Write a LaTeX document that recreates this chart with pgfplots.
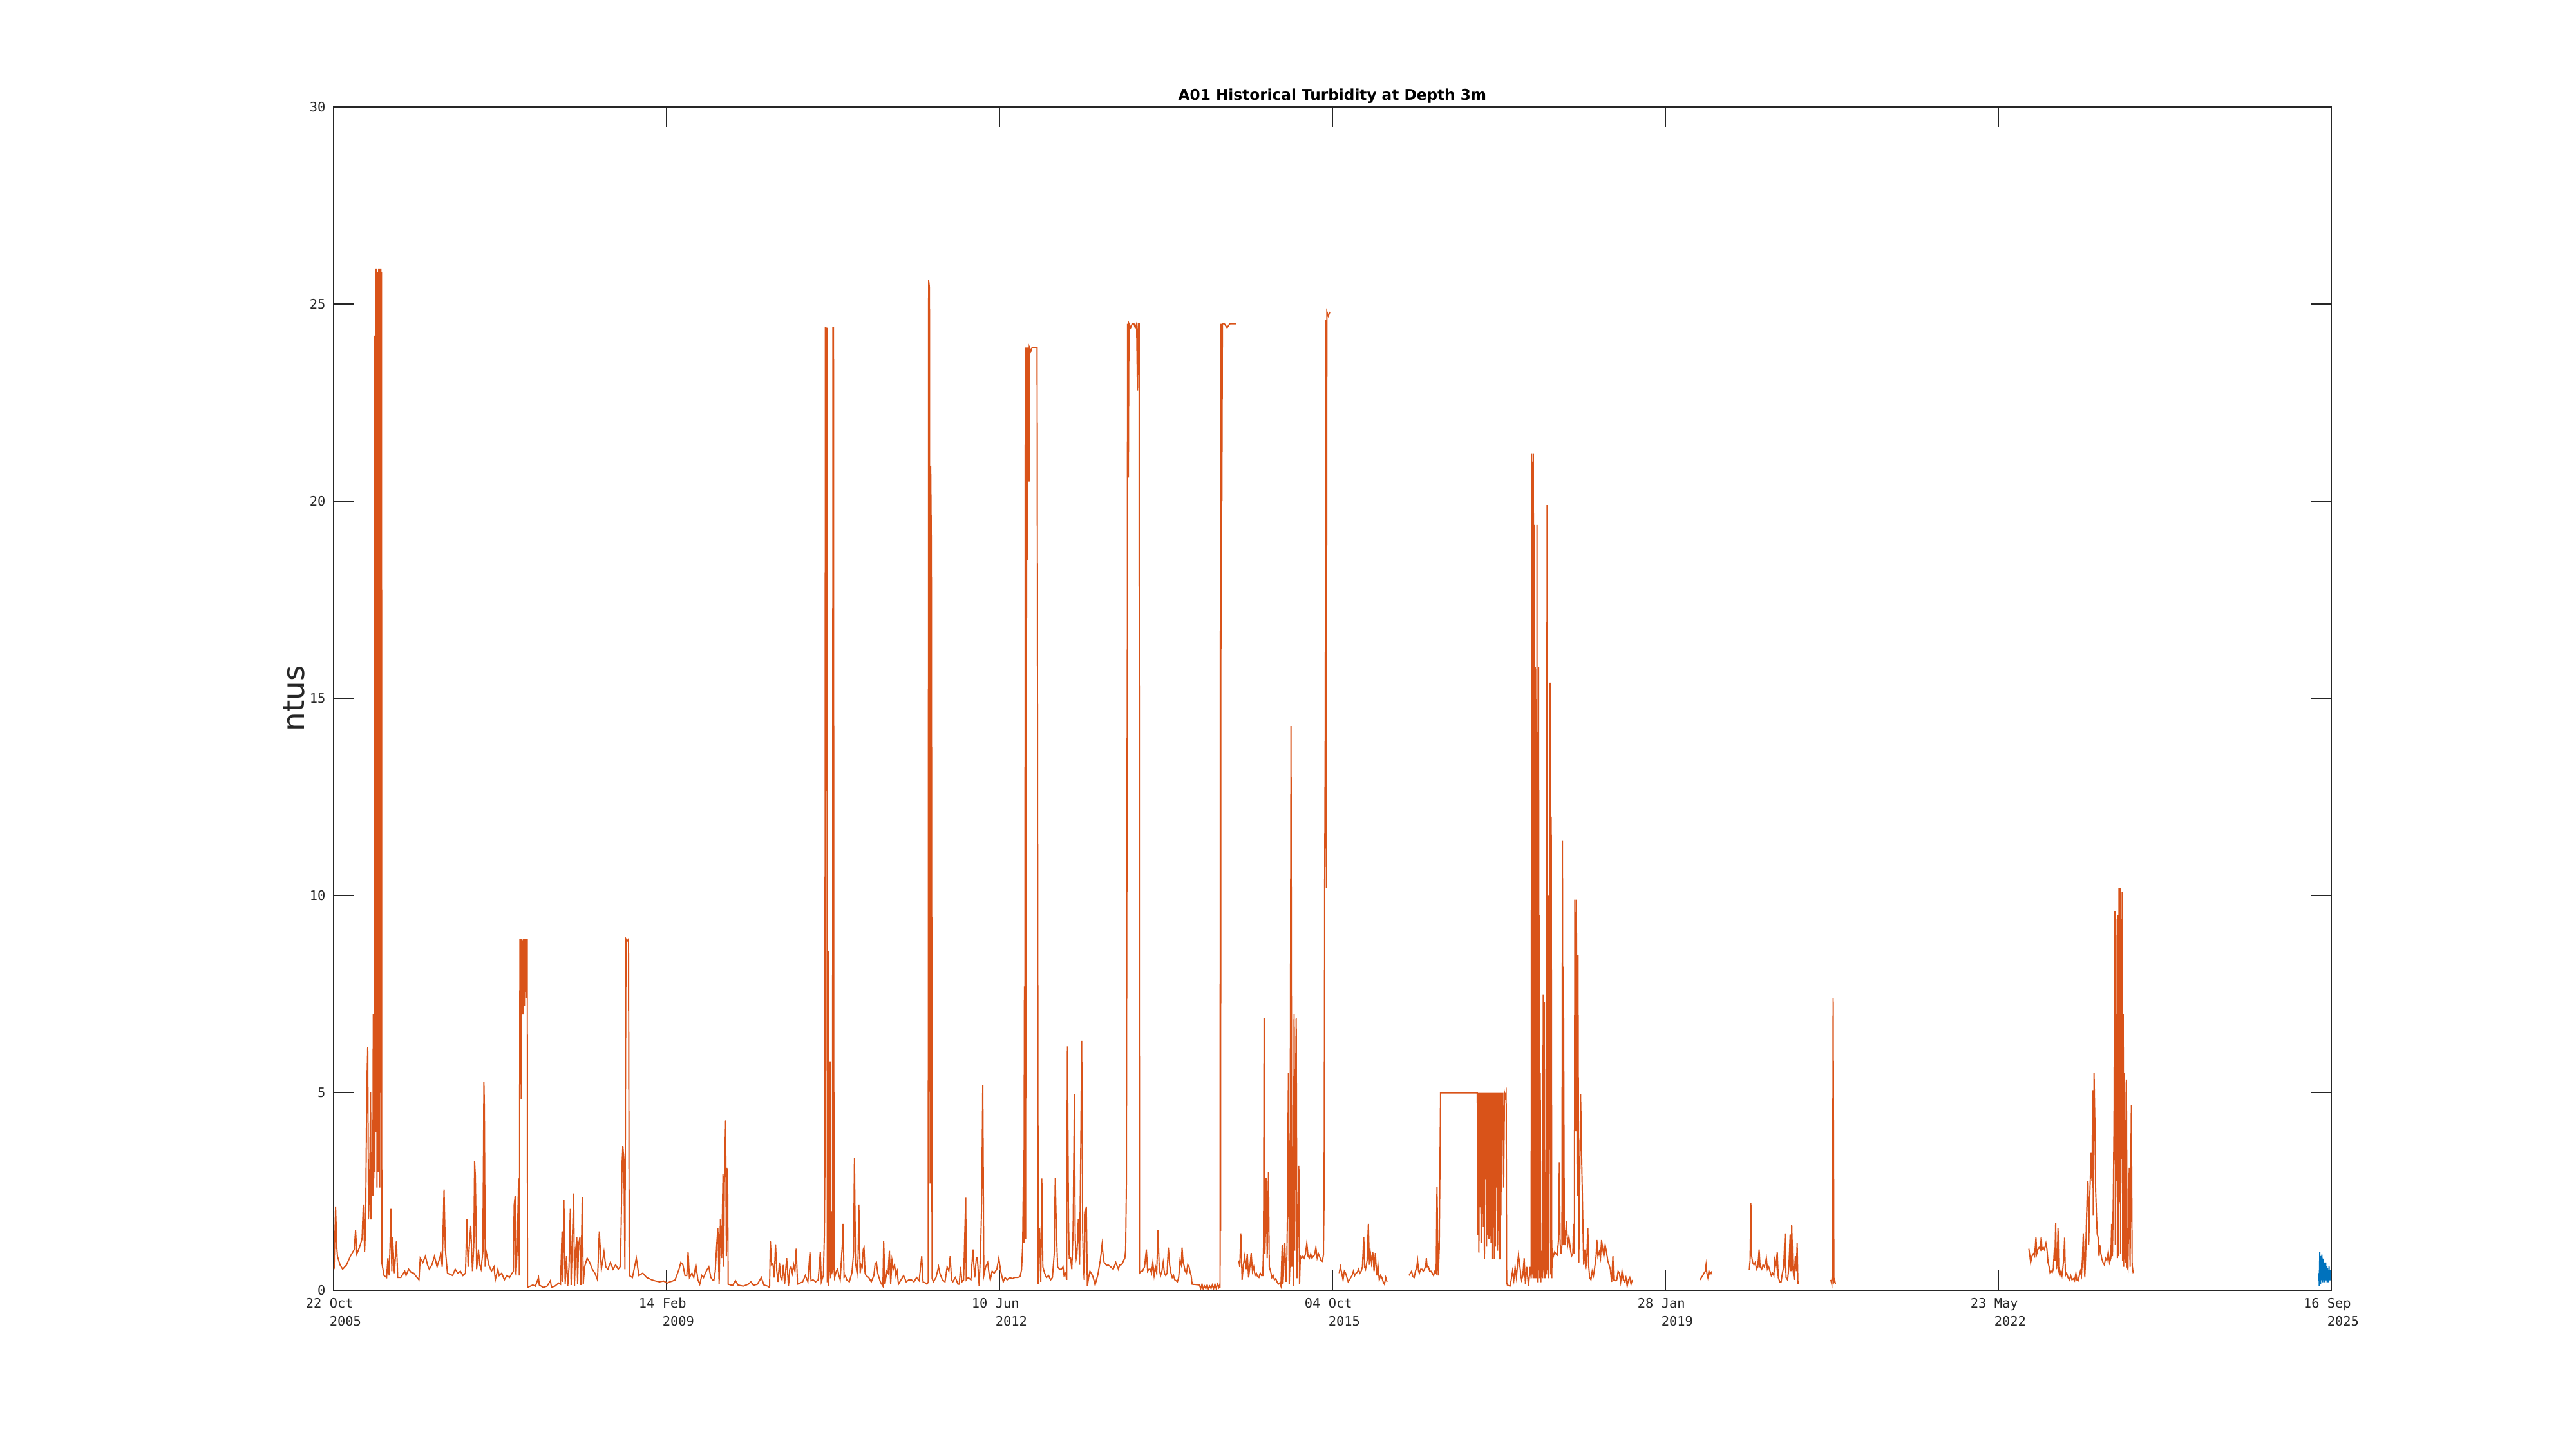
\documentclass[border=0pt]{standalone}
\usepackage{fontspec}
\setmainfont{DejaVu Sans}
\setmonofont{DejaVu Sans Mono}
\usepackage{pgfplots}
\pgfplotsset{compat=1.18}
\definecolor{morange}{RGB}{217,83,25}
\definecolor{mblue}{RGB}{0,114,189}
\definecolor{maxis}{RGB}{38,38,38}
\begin{document}
\begin{tikzpicture}
\begin{axis}[name=ax, scale only axis, width=31.02cm, height=18.37cm,
 xmin=0, xmax=7266, ymin=0, ymax=30,
 xtick={0,1211,2422,3633,4844,6055,7266},
 xticklabels={{22 Oct\\\hphantom{000}2005},{14 Feb\\\hphantom{000}2009},{10 Jun\\\hphantom{000}2012},{04 Oct\\\hphantom{000}2015},{28 Jan\\\hphantom{000}2019},{23 May\\\hphantom{000}2022},{16 Sep\\\hphantom{000}2025}},
 xticklabel style={align=left, font=\fontsize{5.8}{8}\selectfont\ttfamily, text=maxis},
 ytick={0,5,10,15,20,25,30},
 yticklabel style={font=\fontsize{5.8}{7}\selectfont\ttfamily, text=maxis},
 /pgf/number format/assume math mode=true,
 tick align=inside, major tick length=9pt,
 axis line style={maxis, line width=0.6pt},
 tick style={maxis, line width=0.4pt},
 title={A01 Historical Turbidity at Depth 3m},
 title style={font=\fontsize{6.6}{7.5}\selectfont\bfseries, at={(axis description cs:0.5,1)}, anchor=base, yshift=-3.1pt},
 ylabel={ntus},
 ylabel style={font=\fontsize{13.3}{15}\selectfont, text=maxis, at={([xshift=-0.61cm]axis description cs:0,0.5)}, anchor=center},
 unbounded coords=jump,
 clip=true,
]
\addplot[morange, line width=0.55pt] table {
x y
2.0 0.53
7.6 2.12
11.4 1.14
14.2 0.86
23.7 0.64
33.1 0.53
47.2 0.64
61.3 0.86
75.4 1.03
80.1 1.52
84.8 0.92
94.2 1.08
103.7 1.30
108.4 2.17
113.1 0.97
116.8 1.68
120.6 4.96
124.4 6.16
127.2 1.79
131.9 3.05
134.7 5.01
136.6 1.79
141.3 3.48
143.0 2.4
144.5 7.0
146.0 2.8
148 3.5
149.5 24.2
150.5 3.0
152 20.0
153 5.0
154.5 25.9
155.5 4.0
157 25.9
158 2.6
159.5 25.8
160.5 5.7
162 25.7
163 3.0
164.5 25.9
165.5 4.8
167 25.8
168 2.6
169.5 25.9
170.5 5.0
172 25.9
173 18.3
174.5 25.8
175.5 0.70
183.7 0.37
193.1 0.32
197.8 0.81
202.5 0.37
209.1 2.06
211.9 0.48
214.7 1.35
221.3 0.43
228.8 1.25
233.5 0.32
244.8 0.32
258.9 0.48
263.7 0.37
273.1 0.53
282.5 0.45
291.9 0.43
301.3 0.34
310.7 0.26
315.4 0.81
324.8 0.70
334.3 0.86
341.8 0.64
348.4 0.53
357.8 0.64
367.2 0.86
376.6 0.59
386.0 0.81
390.7 0.92
395.4 0.59
402.0 2.55
406.7 1.03
414.3 0.43
423.7 0.40
433.1 0.37
442.5 0.53
451.9 0.43
461.3 0.48
470.7 0.37
480.1 0.43
484.8 1.79
489.5 0.59
494.2 1.14
499.0 1.63
505.5 0.48
510.3 1.14
513.1 3.26
515.9 2.88
520.6 0.53
527.2 1.03
531.9 0.64
536.6 0.53
543.2 0.97
547.0 5.28
548.8 4.57
551.7 0.59
555.4 0.97
560.1 0.81
564.9 0.64
574.3 0.48
583.7 0.59
588.4 0.26
597.8 0.53
602.5 0.37
611.9 0.43
621.3 0.26
630.7 0.37
640.1 0.32
649.6 0.43
654.3 0.48
657.1 2.17
660.9 2.39
663.7 0.37
668.4 1.14
673.1 2.83
675.9 0.37
678 8.9
679.5 7.2
681 8.9
682.5 4.85
684 8.9
685.5 7.5
687 8.85
688.5 7.0
690 8.9
691.5 7.8
693 8.9
694.5 7.2
696 8.9
697.5 8.0
699 8.85
700.5 7.4
702 8.9
703.5 8.5
704.5 8.9
705.5 0.07
715.4 0.10
724.9 0.13
734.3 0.10
745.6 0.32
748.4 0.13
762.5 0.07
776.6 0.10
788.9 0.24
792.6 0.07
804.9 0.10
819.0 0.18
825.6 0.15
831.2 1.49
834.0 0.21
837.8 2.28
842.5 0.15
847.2 0.86
851.9 0.10
856.6 0.59
861.3 2.06
864.1 0.13
867.9 1.08
873.5 2.45
876.4 0.10
880.1 0.97
884.9 1.35
887.7 0.15
891.4 1.14
896.2 1.35
899.9 0.13
904.6 2.36
908.4 0.15
913.1 0.59
922.5 0.81
931.9 0.70
941.3 0.53
950.7 0.43
960.2 0.26
966.7 1.49
974.2 0.53
983.7 0.97
990.3 0.59
997.8 0.53
1007.2 0.70
1016.6 0.53
1026.0 0.64
1035.4 0.53
1042.1 0.59
1044.9 1.08
1049.6 3.21
1052.4 3.65
1056.2 3.26
1059.9 0.53
1063.7 8.9
1068 8.85
1073 8.9
1075.5 0.37
1087.2 0.32
1101.3 0.81
1110.7 0.37
1124.9 0.43
1139.0 0.32
1157.8 0.26
1171.9 0.23
1186.0 0.21
1200.1 0.23
1214.3 0.18
1223.7 0.21
1233.1 0.23
1242.5 0.26
1256.6 0.53
1263.2 0.70
1270.8 0.64
1278.3 0.37
1284.9 0.37
1289.6 0.97
1294.3 0.32
1303.7 0.43
1310.3 0.32
1317.8 0.64
1325.4 0.26
1332.0 0.15
1339.4 0.37
1346.0 0.32
1355.5 0.48
1364.9 0.59
1372.4 0.32
1379.0 0.26
1383.7 0.26
1388.4 0.48
1393.1 1.08
1397.8 1.57
1402.5 0.15
1407.2 1.79
1411.9 0.81
1416.6 2.94
1419.4 0.59
1421.3 2.66
1426.1 4.30
1428.8 0.86
1430.7 3.10
1433.5 2.9
1435.4 0.15
1444.9 0.13
1452 0.12
1461.7 0.24
1471 0.13
1490 0.10
1508.8 0.15
1518 0.21
1527.6 0.12
1541.7 0.15
1555.9 0.32
1565.3 0.13
1579.4 0.10
1586 0.07
1588.8 1.25
1593.5 0.64
1598.2 0.67
1602.9 0.32
1607.6 1.16
1612.3 0.48
1617.0 0.21
1621.7 0.70
1626.5 0.32
1631.2 0.26
1635.9 0.64
1640.6 0.15
1648.1 0.81
1654.7 0.10
1659.4 0.53
1664.1 0.59
1668.8 0.43
1673.5 0.64
1678.2 0.48
1682.9 1.05
1687.6 0.15
1697.0 0.18
1706.4 0.21
1715.9 0.37
1725.3 0.21
1732.8 0.97
1736.6 0.24
1744.1 0.26
1753.5 0.21
1762.9 0.26
1770.5 0.97
1774.2 0.21
1781.7 0.37
1785.5 1.46
1787.4 3.32
1789 24.4
1791 24.4
1792.5 22.8
1794 24.4
1796 0.2
1799 8.6
1800.5 0.1
1803 0.5
1806 5.8
1808 0.3
1810 2.0
1812 0.4
1815 0.6
1816.5 24.4
1818.5 24.4
1820 0.6
1822.5 0.32
1828.8 0.48
1833.5 0.53
1838.2 0.37
1842.9 0.26
1847.6 0.81
1850.5 1.14
1853.3 1.68
1857.0 0.32
1861.8 0.37
1866.5 0.26
1875.9 0.21
1885.3 0.43
1891.9 0.97
1894.7 3.35
1898.5 0.70
1904.1 0.43
1907.9 0.81
1910.7 2.17
1915.4 0.43
1919.2 0.64
1922.9 0.59
1926.7 1.03
1929.5 1.08
1933.3 0.43
1937.0 0.37
1946.5 0.32
1955.9 0.21
1965.3 0.37
1970.0 0.67
1974.7 0.70
1979.4 0.43
1988.8 0.21
1998.2 0.10
2001.0 1.25
2005.7 0.15
2012.3 0.48
2017.0 0.43
2021.8 1.00
2026.5 0.15
2031.2 0.75
2035.9 0.53
2040.6 0.64
2045.3 0.37
2050.0 0.48
2054.7 0.15
2064.1 0.26
2073.5 0.37
2082.9 0.21
2092.3 0.26
2101.8 0.26
2111.2 0.21
2120.6 0.32
2130.0 0.24
2139.4 0.86
2144.1 0.21
2153.5 0.18
2158.2 0.15
2163 0.2
2164.5 25.6
2167.5 25.4
2170 2.7
2172 20.9
2174.5 18.7
2177 0.3
2181.8 0.21
2191.2 0.32
2200.6 0.59
2205.3 0.43
2214.7 0.26
2224.1 0.21
2231.7 0.59
2238.2 0.48
2243.0 0.86
2247.7 0.26
2252.4 0.21
2261.8 0.32
2271.2 0.15
2275.9 0.15
2280.6 0.59
2285.3 0.21
2291.9 0.26
2299.4 2.34
2301.3 0.26
2308.8 0.32
2318.2 0.26
2325.7 1.03
2329.5 0.59
2332.3 0.32
2338.0 0.81
2341.8 0.81
2348.4 0.10
2354.0 1.14
2357.8 2.34
2361.5 5.20
2365.3 0.37
2371.9 0.59
2379.4 0.70
2384.1 0.43
2388.8 0.26
2395.4 0.48
2403.0 0.43
2412.4 0.53
2419.9 0.81
2426.5 0.48
2435.9 0.21
2442.5 0.32
2450.0 0.26
2459.4 0.32
2468.8 0.29
2478.2 0.32
2487.7 0.32
2497.1 0.34
2502.7 0.53
2506.5 1.14
2509.3 2.94
2511 1.2
2513 7.7
2514.5 3.0
2516 23.9
2517.5 1.3
2519 23.9
2520.5 16.2
2522 23.9
2523.5 18.5
2525 23.9
2526.5 21.8
2528 23.9
2529.5 20.5
2531 23.9
2536 23.8
2541 23.9
2548 23.9
2555 23.9
2559 23.9
2562.9 0.15
2567.7 1.57
2572.4 0.21
2576.1 2.83
2579.9 0.59
2586.4 0.43
2593.1 0.32
2600.6 0.37
2608.1 0.26
2614.7 0.32
2621.3 0.92
2625.1 2.85
2628.8 1.63
2633.5 0.59
2640.1 0.53
2647.7 0.53
2653.3 0.59
2657.1 0.37
2662.7 0.43
2666.5 0.26
2669.3 6.18
2673.1 1.85
2675.9 0.81
2680.6 0.81
2685.3 0.53
2690.0 1.52
2694.7 4.96
2697.6 1.30
2701.3 0.81
2704.1 0.92
2708.9 1.79
2713.6 0.64
2718.3 3.92
2721.1 6.32
2724.9 1.41
2727.7 0.59
2730.5 0.26
2734.3 1.95
2738.0 2.12
2741.8 0.10
2746.5 0.32
2751.2 0.48
2760.6 0.37
2765.3 0.26
2770.0 0.13
2774.7 0.26
2779.4 0.37
2788.8 0.75
2795.4 1.16
2800.1 0.81
2802.9 0.70
2812.4 0.62
2817.1 0.64
2826.5 0.59
2835.9 0.53
2845.3 0.70
2854.7 0.53
2859.4 0.64
2864.1 0.64
2868.8 0.67
2873.5 0.75
2878.3 0.81
2881.1 1.03
2883.9 2.77
2886 12.5
2887 15.5
2888 24.5
2891 20.6
2893 24.5
2899 24.4
2905 24.5
2911 24.5
2916 24.4
2921 24.5
2924 22.8
2927 24.5
2930 24.5
2931.5 0.43
2937.6 0.48
2942.3 0.48
2949.8 0.59
2956.4 1.03
2961.1 0.48
2965.8 0.53
2970.5 0.53
2975.2 0.43
2979.9 0.70
2984.6 0.37
2989.3 0.59
2994.0 0.43
2998.7 1.52
3003.4 0.53
3008.2 0.37
3012.9 0.48
3017.6 0.70
3022.3 0.43
3027.0 0.37
3031.7 0.43
3036.4 1.08
3041.1 0.64
3045.8 0.43
3050.5 0.32
3055.2 0.37
3059.9 0.26
3064.6 0.24
3069.3 0.21
3074.0 0.32
3078.7 0.75
3083.4 0.64
3086.3 1.08
3090.0 0.70
3092.9 0.64
3097.6 0.48
3102.3 0.43
3107.0 0.64
3111.7 0.59
3116.4 0.43
3119.2 0.37
3123.0 0.15
3149.3 0.13
3154.0 0.04
3158.8 0.15
3163.5 0.02
3168.2 0.10
3172.9 0.04
3177.6 0.13
3182.3 0.02
3187.0 0.10
3191.7 0.04
3196.4 0.13
3201.1 0.04
3205.8 0.15
3210.5 0.04
3215.2 0.15
3219.9 0.07
3222.7 0.13
3224.5 0.05
3225.5 16.7
3226.5 1.5
3228 24.5
3231 20.0
3233 24.5
3240 24.5
3250 24.4
3260 24.5
3270 24.5
3282 24.5
nan nan
3292.4 0.75
3296.2 0.59
3299.9 1.44
3304.6 0.26
3309.3 0.64
3314.1 0.86
3318.8 0.53
3323.5 0.92
3328.2 0.32
3332.9 0.59
3337.6 0.94
3342.3 0.48
3347.0 0.59
3351.7 0.37
3356.4 0.43
3361.1 0.34
3365.8 0.32
3370.5 0.43
3375.2 0.37
3379.9 0.37
3382.8 1.14
3384.6 6.9
3387.5 0.92
3390.3 1.68
3392.2 2.85
3395.9 0.81
3398.8 2.23
3400.6 2.99
3403.5 0.59
3408.2 0.48
3412.9 0.32
3417.6 0.37
3422.3 0.26
3427.0 0.29
3431.7 0.21
3436.4 0.15
3441.1 0.18
3445.8 0.10
3450.5 1.14
3453.3 0.15
3457.1 0.70
3459.9 1.19
3464.6 0.21
3467.5 0.86
3469.4 1.85
3473.1 5.50
3475.9 0.15
3478.8 0.70
3482.5 14.3
3485.4 0.59
3488.2 3.65
3491.0 0.10
3493.8 7.0
3495.7 1.0
3498.5 4.8
3501.4 6.9
3504.2 0.3
3507.0 1.14
3510.8 3.15
3513.6 0.15
3516.4 0.86
3521.1 0.81
3525.8 0.86
3530.5 0.81
3535.2 0.92
3539.9 1.19
3544.6 0.86
3549.3 0.81
3554.1 0.92
3558.8 0.81
3563.5 0.86
3568.2 0.89
3572.9 1.08
3577.6 0.81
3582.3 0.92
3587.0 0.84
3591.7 0.75
3596.4 0.73
3600.5 0.9
3603 2.5
3605 10.4
3607 14.4
3609 24.6
3611 10.2
3613 24.8
3618 24.7
3624 24.8
nan nan
3657.6 0.43
3662.3 0.59
3667.0 0.43
3671.7 0.26
3676.4 0.48
3681.1 0.43
3685.8 0.32
3690.5 0.21
3695.2 0.26
3699.9 0.32
3704.6 0.37
3709.4 0.48
3714.1 0.37
3718.8 0.43
3723.5 0.45
3728.2 0.53
3732.9 0.43
3737.6 0.48
3742.3 0.59
3747.0 1.35
3749.8 0.59
3753.6 0.53
3759.2 0.75
3763.9 1.68
3767.7 0.64
3771.5 0.92
3775.2 0.70
3779.9 0.97
3784.6 0.48
3789.4 0.94
3794.1 0.37
3798.8 0.64
3803.5 0.26
3808.2 0.37
3812.9 0.32
3817.6 0.21
3822.3 0.15
3827.0 0.32
3831.7 0.21
nan nan
3911.7 0.37
3916.4 0.43
3921.1 0.48
3925.8 0.34
3930.5 0.32
3935.3 0.48
3940.0 0.59
3942.8 0.75
3946.5 0.48
3949.4 0.43
3954.1 0.53
3958.8 0.53
3963.5 0.48
3968.2 0.53
3972.9 0.64
3974.8 0.81
3977.6 0.59
3982.3 0.59
3987.0 0.48
3991.7 0.48
3996.4 0.43
4001.1 0.37
4005.8 0.48
4010.5 0.43
4013.4 2.61
4018.1 0.37
4021.8 1.08
4026.5 5.0
4160 5.0
4162 1.4
4164 5.0
4166 0.95
4168 5.0
4170 2.1
4172 5.0
4174 1.2
4176 5.0
4178 3.0
4180 5.0
4182 1.6
4184 5.0
4186 0.8
4188 5.0
4190 2.8
4192 5.0
4194 1.1
4196 5.0
4198 1.4
4200 5.0
4202 1.3
4204 5.0
4206 2.2
4208 5.0
4210 1.2
4212 5.0
4214 0.8
4216 5.0
4218 1.6
4220 5.0
4222 0.8
4224 5.0
4226 1.1
4228 5.0
4230 2.6
4232 5.0
4234 1.0
4236 5.0
4238 1.5
4240 5.0
4242 0.78
4244 5.0
4246 1.9
4248 5.0
4250 3.8
4253 5.0
4256 2.6
4259 5.0
4262 4.9
4265 5.0
4267 0.2
4269.4 0.13
4278.8 0.10
4283.5 0.26
4288.2 0.48
4292.9 0.26
4297.6 0.59
4302.4 0.32
4307.1 0.70
4309.9 0.89
4314.6 0.64
4318.4 0.37
4321.1 0.26
4325.8 0.37
4330.6 0.81
4335.2 0.15
4339.9 0.59
4346.5 0.10
4352.2 0.59
4356 0.3
4358 21.2
4359 0.4
4360 21.0
4361 1.0
4362 20.5
4363 0.3
4364 21.2
4365 2.0
4366 16.0
4367 0.3
4368 19.4
4370 0.5
4371 15.8
4373 0.3
4374 13.6
4376 0.8
4377 19.4
4379 0.2
4380 11.7
4382 0.5
4383 15.8
4385 0.3
4386 9.5
4388 0.6
4389 5.5
4391 0.2
4395 1.0
4398 0.3
4400 7.5
4402 0.5
4404 7.3
4406 0.3
4410 3.0
4412 0.4
4414 19.9
4416 0.5
4418 10.0
4420 0.3
4425 15.4
4427 0.4
4429 12.0
4431 0.3
4432.2 1.03
4436.9 0.86
4441.6 0.97
4446.3 0.92
4451.0 0.89
4455.8 1.30
4458.6 3.24
4461.4 1.19
4465.2 0.92
4468.0 1.14
4469.9 11.4
4471.7 1.14
4473.6 8.2
4476.5 1.52
4479.3 1.14
4484.0 1.74
4488.7 1.14
4493.4 1.35
4498.1 1.08
4502.8 0.86
4507.5 0.92
4510.3 1.68
4513.2 0.92
4515.0 9.9
4517.9 4.03
4520.7 9.9
4523.5 2.39
4526.3 8.5
4529.2 0.70
4532.9 2.77
4535.8 4.96
4539.5 3.43
4543.3 2.01
4547.0 0.64
4550.8 1.03
4554.6 0.53
4558.3 0.81
4562.1 1.57
4564.9 0.64
4568.7 0.32
4573.4 0.26
4578.1 0.48
4582.8 0.37
4587.5 0.59
4592.2 0.86
4595.0 1.27
4598.8 0.86
4603.5 0.97
4608.2 0.81
4612.0 1.27
4615.7 1.08
4620.5 0.86
4625.2 1.14
4629.9 0.97
4634.6 0.75
4639.3 0.64
4644.0 0.53
4648.7 0.21
4653.4 0.86
4656.2 0.26
4662.8 0.24
4667.5 0.26
4672.2 0.48
4676.9 0.43
4681.6 0.21
4686.4 0.48
4691.1 0.26
4695.8 0.21
4700.5 0.32
4705.2 0.10
4709.9 0.26
4714.6 0.32
4719.3 0.15
4724.0 0.26
nan nan
4970.6 0.26
4975.3 0.32
4980.0 0.37
4984.7 0.43
4989.4 0.48
4992.2 0.64
4995.1 0.43
4998.8 0.32
5002.6 0.48
5006.4 0.40
5011.1 0.45
5013.9 0.40
nan nan
5149.4 0.51
5152.2 0.75
5155.1 2.20
5157.9 0.86
5161.6 0.70
5166.4 0.64
5171.1 0.70
5175.8 0.53
5180.5 0.59
5185.2 1.03
5188.9 0.59
5194.6 0.53
5199.3 0.64
5204.0 0.59
5208.7 0.70
5211.5 0.81
5215.3 0.53
5220.0 0.59
5224.7 0.48
5229.4 0.37
5234.1 0.43
5238.8 0.37
5241.7 0.75
5246.4 0.59
5251.1 0.97
5254.8 0.32
5260.5 0.21
5265.2 0.21
5269.9 0.43
5274.6 0.59
5279.3 1.44
5283.1 0.32
5288.7 0.26
5293.4 0.59
5298.1 1.41
5300.9 0.48
5303.8 1.65
5307.5 0.59
5312.3 0.26
5317.0 0.86
5320.7 0.48
5323.5 1.19
5326.4 0.15
nan nan
5445.9 0.26
5449.7 0.15
5452.5 0.59
5454.4 7.4
5457.2 0.21
5460.0 0.26
5462.8 0.15
nan nan
6166.1 1.05
6170.0 0.86
6172.8 0.70
6177.6 0.86
6182.4 0.92
6187.2 0.86
6192.0 1.35
6194.8 0.92
6198.7 1.03
6203.4 1.08
6208.2 1.03
6211.1 1.35
6214.0 1.03
6218.7 1.08
6222.6 1.03
6228.3 1.19
6232.1 1.03
6236.0 0.70
6239.8 0.59
6243.6 0.43
6247.4 0.48
6251.2 0.45
6255.1 0.53
6258.9 1.03
6260.8 0.75
6263.7 1.71
6266.5 0.53
6269.4 0.70
6272.3 1.57
6275.1 0.48
6279.0 0.37
6282.8 0.48
6286.6 0.37
6290.4 0.59
6293.3 0.81
6296.2 1.33
6299.1 0.37
6303.8 0.43
6308.6 0.32
6313.4 0.26
6318.2 0.37
6323.0 0.26
6327.7 0.29
6332.5 0.24
6337.3 0.43
6341.1 0.26
6345.9 0.24
6349.7 0.37
6353.5 0.48
6357.4 0.37
6361.2 0.81
6364.1 1.44
6366.9 0.81
6369.8 0.32
6372.7 0.86
6375.5 1.68
6378.4 2.45
6381.3 2.77
6384.1 1.14
6387.0 2.23
6389.9 2.88
6392.7 3.48
6395.6 2.77
6398.5 5.07
6400.4 1.90
6403.3 5.50
6406.2 4.30
6409.0 2.55
6411.9 1.95
6414.8 1.41
6417.6 1.35
6421.4 0.86
6424.3 1.14
6427.2 0.97
6431.0 0.81
6435.8 0.70
6440.6 0.64
6445.3 0.81
6450.1 0.75
6454.9 0.97
6459.7 0.70
6464.5 0.81
6467.3 1.68
6470.2 0.86
6473.1 2.23
6475.9 4.14
6478.8 9.6
6480.7 1.14
6482.6 9.4
6484.5 2.77
6486.4 7.0
6488.3 0.81
6490.2 9.5
6492.2 0.86
6494.1 10.2
6496.0 2.23
6497.9 10.2
6499.8 0.92
6501.7 8.0
6503.6 3.32
6505.6 10.1
6507.5 0.75
6509.4 7.0
6511.3 0.59
6514.2 5.5
6517.0 0.70
6520.9 5.34
6523.7 0.59
6526.6 0.53
6531.4 3.10
6534.3 0.59
6539.0 4.68
6541.9 0.64
6545.7 0.43
};
\addplot[mblue, line width=0.55pt] table {
x y
7221.6 0.43
7222.5 0.10
7223.5 0.6
7224.5 0.97
7225.5 0.3
7226.5 0.59
7227.4 0.15
7228.4 0.75
7229.3 0.3
7230.2 0.86
7231.2 0.25
7232.1 0.9
7233.1 0.4
7234 0.7
7235 0.2
7236 0.8
7237 0.35
7238 0.65
7239 0.25
7240 0.7
7241 0.3
7242 0.55
7243 0.2
7244 0.6
7245 0.35
7246 0.7
7247 0.25
7248 0.5
7249 0.3
7250 0.6
7251 0.2
7252 0.55
7253 0.35
7254 0.45
7255 0.2
7256 0.5
7257 0.3
7258 0.6
7259 0.25
7260 0.45
7261 0.3
7262 0.5
7263 0.25
7264 0.4
7265 0.3
7266 0.45
};
\end{axis}
\path ([xshift=-5.179cm,yshift=-2.474cm]ax.south west) rectangle ([xshift=3.801cm,yshift=1.658cm]ax.north east);
\end{tikzpicture}
\end{document}
